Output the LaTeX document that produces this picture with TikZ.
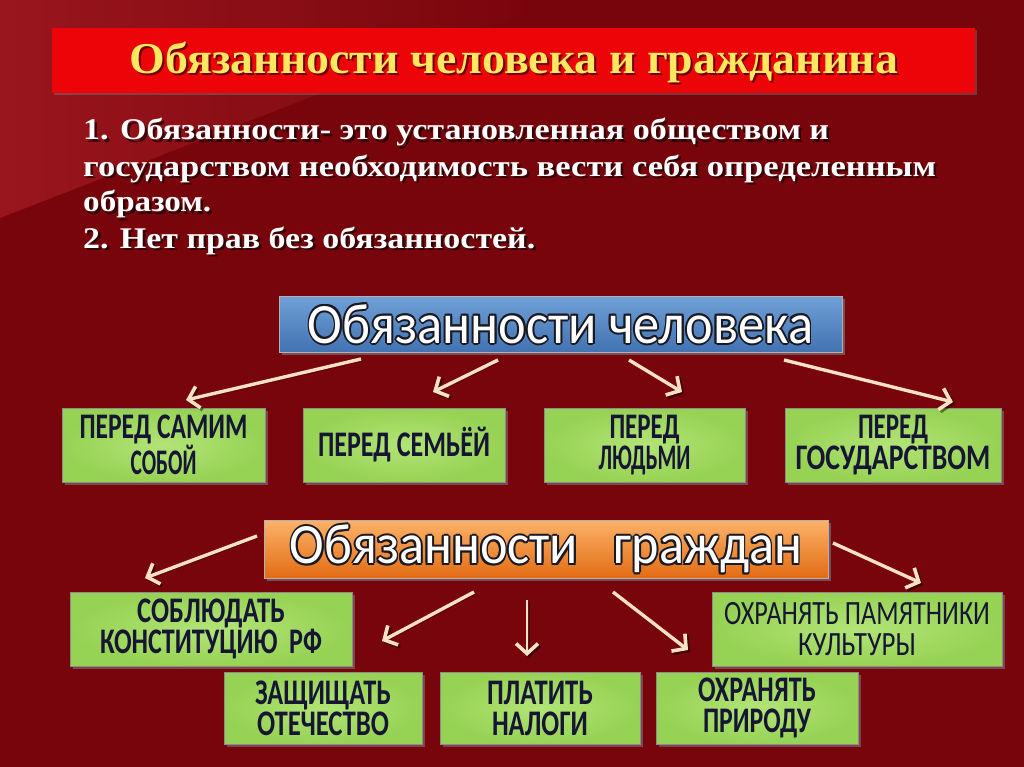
\documentclass[tikz,border=0pt]{standalone}
\usepackage{fontspec}
\usepackage{graphicx}
\setmainfont{Liberation Serif}
\newfontfamily\calfont{Carlito}
\usetikzlibrary{arrows.meta,shadows}
\definecolor{bgred}{RGB}{120,5,12}
\definecolor{bglight}{RGB}{158,24,32}
\definecolor{barred}{RGB}{236,4,8}
\definecolor{titleyellow}{RGB}{255,232,96}
\definecolor{bluetop}{RGB}{112,160,214}
\definecolor{bluebot}{RGB}{66,115,178}
\definecolor{orangetop}{RGB}{252,178,104}
\definecolor{orangebot}{RGB}{226,108,20}
\definecolor{greenfill}{RGB}{150,210,84}
\definecolor{greenlight}{RGB}{178,228,118}
\definecolor{navytext}{RGB}{22,22,52}
\definecolor{arrowcream}{RGB}{250,224,196}
\definecolor{outc}{RGB}{25,25,35}
\newcommand\oc[2]{\rlap{\color{outc}\raise#2\hbox{\kern#1\copy0}}}
\newcommand\outl[1]{{\setbox0\hbox{#1}%
 \oc{2pt}{0pt}\oc{-2pt}{0pt}\oc{0pt}{2pt}\oc{0pt}{-2pt}%
 \oc{1.4pt}{1.4pt}\oc{-1.4pt}{1.4pt}\oc{1.4pt}{-1.4pt}\oc{-1.4pt}{-1.4pt}%
 {\color{white}\box0}}}
\newcommand\sqz[2]{\resizebox{#1}{\height}{#2}}
\begin{document}
\begin{tikzpicture}[x=1pt,y=-1pt,
  greenbox/.style={draw=black!45,line width=1pt,inner sep=0pt,align=center,
    inner color=greenlight,outer color=greenfill,text=navytext,
    font=\calfont\bfseries\fontsize{36}{31}\selectfont,
    drop shadow={opacity=0.55,shadow xshift=3pt,shadow yshift=-3pt}},
  headbox/.style={draw=white!70!black,line width=1pt,inner sep=0pt,
    font=\calfont\fontsize{57}{58}\selectfont,
    drop shadow={opacity=0.6,shadow xshift=3pt,shadow yshift=-3pt}},
  arr/.style={draw=arrowcream,line width=3.4pt,
    -{Straight Barb[length=10pt,width=22pt,line width=3.6pt]},
    preaction={draw=black,opacity=0.45,transform canvas={xshift=2pt,yshift=-2pt}}}
]
\useasboundingbox (0,0) rectangle (1024,767);
% background
\fill[bgred] (0,0) rectangle (1024,767);
\shade[left color=bglight,right color=bgred,opacity=0.9] (0,0) -- (560,0) -- (0,218) -- cycle;
% title bar
\node[fill=barred,minimum width=923pt,minimum height=65pt,inner sep=0pt,
  drop shadow={opacity=0.4,shadow xshift=2pt,shadow yshift=-2pt}] (title) at (513.5,60.5) {};
\node[text=black,opacity=0.55,font=\bfseries\fontsize{44}{46}\selectfont] at (516,64) {\sqz{768pt}{Обязанности человека и гражданина}};
\node[text=titleyellow,font=\bfseries\fontsize{44}{46}\selectfont] (titletext) at (514,62) {\sqz{768pt}{Обязанности человека и гражданина}};
% definition text
\node[anchor=base west,align=left,text=black,opacity=0.6,inner sep=0pt,
  font=\bfseries\fontsize{30}{36}\selectfont] at (85.5,250.5)
 {\sqz{746pt}{1. Обязанности- это установленная обществом и}\\
  \sqz{853pt}{государством необходимость вести себя определенным}\\
  \sqz{128pt}{образом.}\\
  \sqz{452pt}{2. Нет прав без обязанностей.}};
\node[anchor=base west,align=left,text=white,inner sep=0pt,
  font=\bfseries\fontsize{30}{36}\selectfont] (deftext) at (83,248)
 {\sqz{746pt}{1. Обязанности- это установленная обществом и}\\
  \sqz{853pt}{государством необходимость вести себя определенным}\\
  \sqz{128pt}{образом.}\\
  \sqz{452pt}{2. Нет прав без обязанностей.}};
% header boxes
\node[headbox,top color=bluetop,bottom color=bluebot,minimum width=563pt,minimum height=56pt] (hum) at (560.5,324)
 {\sqz{505pt}{\outl{Обязанности человека}}};
\node[headbox,top color=orangetop,bottom color=orangebot,minimum width=564pt,minimum height=58pt] (cit) at (546,549)
 {\sqz{512pt}{\outl{Обязанности\ \ \ граждан}}};
% row 1
\node[greenbox,minimum width=203pt,minimum height=74pt] (g1) at (163.5,445) {\sqz{168pt}{ПЕРЕД САМИМ}\\\sqz{66pt}{СОБОЙ}};
\node[greenbox,minimum width=202pt,minimum height=74pt] (g2) at (404,445) {\sqz{172pt}{ПЕРЕД СЕМЬЁЙ}};
\node[greenbox,minimum width=201pt,minimum height=74pt] (g3) at (644.5,445) {\sqz{70pt}{ПЕРЕД}\\\sqz{92pt}{ЛЮДЬМИ}};
\node[greenbox,minimum width=216pt,minimum height=74pt] (g4) at (893,445) {\sqz{70pt}{ПЕРЕД}\\\sqz{195pt}{ГОСУДАРСТВОМ}};
% row 2
\node[greenbox,minimum width=282pt,minimum height=74pt] (c1) at (211,629) {\sqz{148pt}{СОБЛЮДАТЬ}\\\sqz{222pt}{КОНСТИТУЦИЮ\ \ РФ}};
\node[greenbox,minimum width=290pt,minimum height=74pt,font=\calfont\fontsize{34}{31}\selectfont] (c5) at (857,629) {\sqz{266pt}{ОХРАНЯТЬ ПАМЯТНИКИ}\\\sqz{118pt}{КУЛЬТУРЫ}};
% row 3
\node[greenbox,minimum width=198pt,minimum height=72pt] (c2) at (323,708) {\sqz{136pt}{ЗАЩИЩАТЬ}\\\sqz{132pt}{ОТЕЧЕСТВО}};
\node[greenbox,minimum width=200pt,minimum height=72pt] (c3) at (540,708) {\sqz{106pt}{ПЛАТИТЬ}\\\sqz{96pt}{НАЛОГИ}};
\node[greenbox,minimum width=202pt,minimum height=72pt] (c4) at (757,708) {\sqz{118pt}{ОХРАНЯТЬ}\\\sqz{108pt}{ПРИРОДУ}};
% arrow end points
\coordinate (h1s) at (361,359); \coordinate (h1e) at (186,400);
\coordinate (h2s) at (498,360); \coordinate (h2e) at (433,392);
\coordinate (h3s) at (629,360); \coordinate (h3e) at (682,392);
\coordinate (h4s) at (784,360); \coordinate (h4e) at (953,402);
\coordinate (k1s) at (257,536); \coordinate (k1e) at (145,578);
\coordinate (k5s) at (833,543); \coordinate (k5e) at (921,583);
\coordinate (k2s) at (474,592); \coordinate (k2e) at (382,641);
\coordinate (k3s) at (527,600); \coordinate (k3e) at (527,656);
\coordinate (k4s) at (613,592); \coordinate (k4e) at (688,650);
% arrows
\draw[arr] (h1s) -- (h1e);
\draw[arr] (h2s) -- (h2e);
\draw[arr] (h3s) -- (h3e);
\draw[arr] (h4s) -- (h4e);
\draw[arr] (k1s) -- (k1e);
\draw[arr] (k5s) -- (k5e);
\draw[arr] (k2s) -- (k2e);
\draw[arr,line width=2.8pt] (k3s) -- (k3e);
\draw[arr] (k4s) -- (k4e);
\end{tikzpicture}
\end{document}
